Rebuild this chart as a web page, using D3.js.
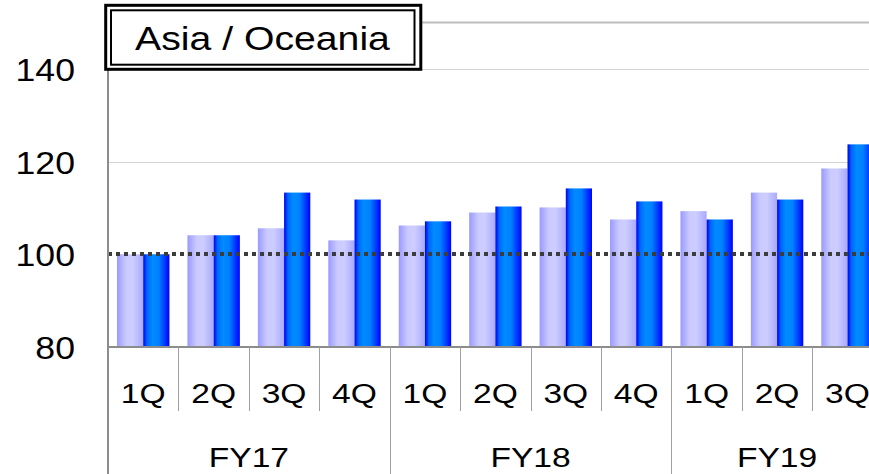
<!DOCTYPE html>
<html>
<head>
<meta charset="utf-8">
<script src="https://cdn.jsdelivr.net/npm/d3@7"></script>
<style>
  html, body { margin: 0; padding: 0; background: #fff; }
  svg { display: block; }
  text { font-family: "Liberation Sans", Arial, sans-serif; fill: #000; }
</style>
</head>
<body>
<svg id="chart" width="869" height="474"></svg>
<script>
// Quarterly index values, Asia / Oceania (FY17 1Q = 100)
const quarterLabels = ["1Q", "2Q", "3Q", "4Q", "1Q", "2Q", "3Q", "4Q", "1Q", "2Q", "3Q"];
const fiscalYears = ["FY17", "FY18", "FY19"];
const quartersPerYear = [4, 4, 3];
const seriesLight = [100.0, 104.1, 105.6, 103.0, 106.2, 109.0, 110.1, 107.5, 109.3, 113.3, 118.5];
const seriesDark = [100.0, 104.1, 113.3, 111.8, 107.1, 110.3, 114.2, 111.4, 107.5, 111.8, 123.7];
const yTicks = [80, 100, 120, 140];
const baselineValue = 100;
const titleText = "Asia / Oceania";

const svg = d3.select("#chart");

const left = 108, plotTop = 22.4, plotBottom = 347;
const step = 70.43;
const right = left + step * quarterLabels.length;

const y = d3.scaleLinear().domain([80, 150]).range([plotBottom, plotTop]);
const x = d3.scaleBand()
  .domain(d3.range(quarterLabels.length))
  .range([left, right])
  .paddingInner(0.2556)
  .paddingOuter(0.1278);
const xs = d3.scaleBand().domain(["light", "dark"]).range([0, x.bandwidth()]);

// gradients for the cylinder-like bar shading
const defs = svg.append("defs");
const gradLight = defs.append("linearGradient").attr("id", "gLight");
[[0, "#9a9aff"], [0.35, "#cacaff"], [0.6, "#cdcdff"], [1, "#a9a9ff"]]
  .forEach(([o, c]) => gradLight.append("stop").attr("offset", o).attr("stop-color", c));
const gradDark = defs.append("linearGradient").attr("id", "gDark");
[[0, "#0000f0"], [0.15, "#0066ff"], [0.35, "#008cff"], [0.6, "#0080ff"], [0.85, "#0030ff"], [1, "#0000ff"]]
  .forEach(([o, c]) => gradDark.append("stop").attr("offset", o).attr("stop-color", c));

// plot top border and gridlines
svg.append("line")
  .attr("x1", left).attr("x2", 869).attr("y1", y(150)).attr("y2", y(150))
  .attr("stroke", "#bdbdbd").attr("stroke-width", 2);
svg.append("g").selectAll("line")
  .data(yTicks.filter(t => t > 80 && t !== baselineValue))
  .join("line")
  .attr("x1", left).attr("x2", 869)
  .attr("y1", d => Math.round(y(d)) + 0.5).attr("y2", d => Math.round(y(d)) + 0.5)
  .attr("stroke", "#d4d4d4").attr("stroke-width", 1);

// bars
const groups = svg.append("g").selectAll("g")
  .data(quarterLabels.map((q, i) => i))
  .join("g")
  .attr("transform", i => `translate(${x(i)},0)`);
groups.append("rect")
  .attr("x", xs("light")).attr("width", xs.bandwidth())
  .attr("y", i => y(seriesLight[i])).attr("height", i => y(80) - y(seriesLight[i]))
  .attr("fill", "url(#gLight)");
groups.append("rect")
  .attr("x", xs("dark")).attr("width", xs.bandwidth())
  .attr("y", i => y(seriesDark[i])).attr("height", i => y(80) - y(seriesDark[i]))
  .attr("fill", "url(#gDark)");

// dotted reference line at 100
svg.append("line")
  .attr("x1", left).attr("x2", 869)
  .attr("y1", Math.round(y(baselineValue))).attr("y2", Math.round(y(baselineValue)))
  .attr("stroke", "#3c3c3c").attr("stroke-width", 4)
  .attr("stroke-dasharray", "4,4");

// axes
svg.append("line")
  .attr("x1", left).attr("x2", 869).attr("y1", plotBottom).attr("y2", plotBottom)
  .attr("stroke", "#8c8c8c").attr("stroke-width", 2);
svg.append("line")
  .attr("x1", left).attr("x2", left).attr("y1", plotTop).attr("y2", 474)
  .attr("stroke", "#8c8c8c").attr("stroke-width", 2);

// quarter separators and fiscal year separators
const yearStarts = [];
quartersPerYear.reduce((acc, n) => { yearStarts.push(acc); return acc + n; }, 0);
svg.append("g").selectAll("line")
  .data(d3.range(1, quarterLabels.length + 1))
  .join("line")
  .attr("x1", i => Math.round(left + step * i) + 0.5)
  .attr("x2", i => Math.round(left + step * i) + 0.5)
  .attr("y1", plotBottom)
  .attr("y2", i => yearStarts.includes(i) ? 474 : 411)
  .attr("stroke", "#a0a0a0").attr("stroke-width", 1);

function stretched(sel, sx) {
  sel.attr("transform", d => `translate(${d.x},${d.y}) scale(${sx},1)`);
}

// y tick labels
svg.append("g").selectAll("text")
  .data(yTicks.map(t => ({ t, x: 75, y: y(t) + 12 })))
  .join("text")
  .attr("text-anchor", "end")
  .style("font-size", "31px")
  .text(d => d.t)
  .call(stretched, 1.15);

// quarter labels
svg.append("g").selectAll("text")
  .data(quarterLabels.map((q, i) => ({ q, x: x(i) + x.bandwidth() / 2, y: 403 })))
  .join("text")
  .attr("text-anchor", "middle")
  .style("font-size", "28px")
  .text(d => d.q)
  .call(stretched, 1.2);

// fiscal year labels
svg.append("g").selectAll("text")
  .data(fiscalYears.map((fy, k) => {
    const a = yearStarts[k], n = quartersPerYear[k];
    return { fy, x: left + step * (a + n / 2), y: 467 };
  }))
  .join("text")
  .attr("text-anchor", "middle")
  .style("font-size", "28px")
  .text(d => d.fy)
  .call(stretched, 1.2);

// title box with double border
const box = svg.append("g");
box.append("rect")
  .attr("x", 105.7).attr("y", 5.3).attr("width", 315.1).attr("height", 64)
  .attr("fill", "#fff").attr("stroke", "#000").attr("stroke-width", 3);
box.append("rect")
  .attr("x", 111).attr("y", 10.3).attr("width", 303.5).attr("height", 54.4)
  .attr("fill", "#fff").attr("stroke", "#000").attr("stroke-width", 2);
box.append("text")
  .datum({ x: 262.5, y: 50 })
  .attr("text-anchor", "middle")
  .style("font-size", "33.5px")
  .text(titleText)
  .call(stretched, 1.17);
</script>
</body>
</html>
